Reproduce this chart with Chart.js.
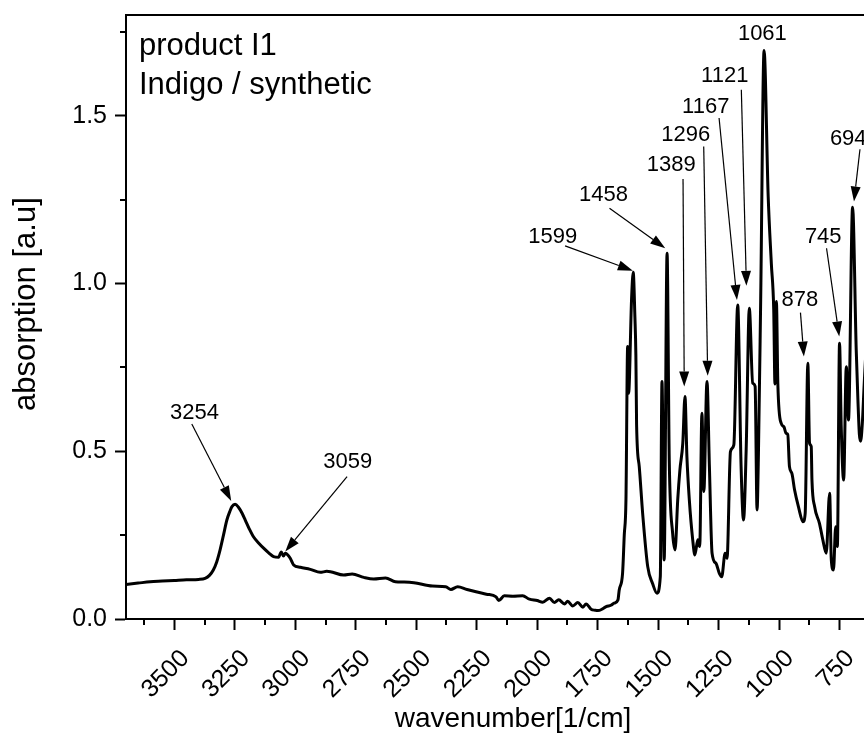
<!DOCTYPE html>
<html>
<head>
<meta charset="utf-8">
<script src="https://cdn.jsdelivr.net/npm/chart.js@4.4.1/dist/chart.umd.min.js"></script>
<style>
html,body{margin:0;padding:0;background:#fff;overflow:hidden;}
canvas{display:block;}
</style>
</head>
<body>
<canvas id="c" width="920" height="740"></canvas>
<script>
// ---- spectrum data (wavenumber in 1/cm, absorption in a.u.) ----
const wavenumber = [3700,3650,3600,3550,3500,3450,3400,3373,3355,3339,3325,3311,3297,3283,3270,3262,3249,3235,3220,3207,3190,3173,3150,3131,3110,3090,3069,3058,3049,3041,3030,3021,3007,2979,2938,2897,2870,2855,2800,2765,2717,2676,2627,2586,2550,2510,2433,2378,2357,2329,2290,2253,2210,2170,2159,2136,2100,2060,2032,2000,1977,1949,1929,1911,1887,1874,1853,1832,1811,1798,1777,1760,1749,1730,1715,1695,1682,1666,1661,1647,1640,1633,1626,1622,1610,1603,1596,1592,1589,1578,1564,1543,1523,1505,1491,1484,1475,1463,1454,1440,1430,1419,1410,1398,1389,1381,1371,1357,1348,1336,1328,1319,1311,1298,1288,1277,1261,1247,1237,1223,1215,1201,1187,1171,1157,1147,1136,1123,1109,1099,1091,1085,1076,1062,1045,1032,1022,1017,1011,1005,991,980,971,964,957,947,936,920,901,892,881,874,867,864,853,833,819,805,791,784,775,766,759,750,743,733,722,713,696,681,674,668,663,656,648,641,620,600,560,500];
const absorbance = [0.103,0.107,0.111,0.113,0.115,0.117,0.118,0.121,0.130,0.146,0.170,0.206,0.250,0.295,0.322,0.335,0.342,0.333,0.315,0.295,0.268,0.245,0.225,0.211,0.197,0.186,0.184,0.200,0.188,0.196,0.190,0.181,0.161,0.154,0.148,0.139,0.142,0.141,0.131,0.134,0.124,0.119,0.122,0.111,0.110,0.108,0.098,0.096,0.088,0.096,0.088,0.081,0.074,0.066,0.055,0.069,0.068,0.069,0.059,0.055,0.050,0.062,0.049,0.057,0.045,0.053,0.039,0.049,0.035,0.045,0.029,0.026,0.025,0.030,0.037,0.041,0.047,0.057,0.086,0.136,0.25,0.355,0.812,0.673,0.95,1.033,0.90,0.787,0.578,0.454,0.315,0.156,0.106,0.077,0.126,0.708,0.176,1.09,0.474,0.255,0.206,0.355,0.444,0.524,0.663,0.484,0.355,0.236,0.191,0.236,0.216,0.613,0.380,0.708,0.454,0.196,0.166,0.136,0.126,0.196,0.181,0.499,0.519,0.936,0.454,0.295,0.504,0.926,0.703,0.693,0.325,0.504,0.95,1.694,1.26,1.06,0.92,0.70,0.946,0.70,0.583,0.573,0.553,0.55,0.454,0.434,0.385,0.335,0.290,0.315,0.762,0.524,0.514,0.414,0.335,0.285,0.236,0.196,0.375,0.176,0.146,0.275,0.216,0.822,0.573,0.414,0.752,0.593,1.227,0.802,0.653,0.55,0.53,0.58,0.70,0.79,0.85,0.75,0.60,0.50];

// ---- axis ticks ----
const xMajorTicks = [3500,3250,3000,2750,2500,2250,2000,1750,1500,1250,1000,750];
const xMinorTicks = [3625,3375,3125,2875,2625,2375,2125,1875,1625,1375,1125,875,625];
const yMajorTicks = [0,0.5,1.0,1.5];
const yMinorTicks = [0.25,0.75,1.25,1.75];

// ---- peak annotations (data coordinates) ----
const peakText   = ['1061','1121','1167','1296','1389','1458','1599','694','745','878','3254','3059'];
const labelX     = [1069,1224.5,1303,1386,1445.7,1725.7,1935.7,714,817.4,914,3417,2783.5];
const labelY     = [1.743,1.619,1.527,1.443,1.354,1.264,1.138,1.430,1.140,0.951,0.615,0.467];
const arrowFromX = [null,1156,1248,1311.5,1397,1701,1884.7,665.5,803.7,911.5,3428,2786];
const arrowFromY = [null,1.577,1.493,1.408,1.311,1.224,1.112,1.400,1.105,0.913,0.581,0.424];
const arrowToX   = [null,1135,1174,1295,1392,1470.6,1604.4,690.3,751.2,897.4,3265,3041.5];
const arrowToY   = [null,0.993,0.951,0.725,0.693,1.105,1.038,1.244,0.842,0.782,0.352,0.201];

const sampleText = ['product I1','Indigo / synthetic'];

const FONT = '"Liberation Sans", Arial, Helvetica, sans-serif';

const extras = {
  id: 'extras',
  afterDraw(chart) {
    const {ctx, chartArea: ca, scales: {x, y}} = chart;
    ctx.save();
    ctx.strokeStyle = '#000';
    ctx.fillStyle = '#000';
    // top frame line
    ctx.lineWidth = 2;
    ctx.beginPath();
    ctx.moveTo(ca.left - 1, ca.top);
    ctx.lineTo(ca.right, ca.top);
    ctx.stroke();
    // minor ticks
    xMinorTicks.forEach(v => {
      const px = Math.round(x.getPixelForValue(v));
      ctx.beginPath(); ctx.moveTo(px, ca.bottom); ctx.lineTo(px, ca.bottom + 6); ctx.stroke();
    });
    yMinorTicks.forEach(v => {
      const py = Math.round(y.getPixelForValue(v));
      ctx.beginPath(); ctx.moveTo(ca.left, py); ctx.lineTo(ca.left - 6, py); ctx.stroke();
    });
    // sample text
    ctx.font = '31px ' + FONT;
    ctx.textAlign = 'left';
    ctx.textBaseline = 'alphabetic';
    ctx.fillText(sampleText[0], ca.left + 13, ca.top + 40);
    ctx.fillText(sampleText[1], ca.left + 13, ca.top + 79);
    // peak labels
    ctx.font = '22px ' + FONT;
    ctx.textAlign = 'center';
    ctx.textBaseline = 'middle';
    peakText.forEach((t, i) => {
      ctx.fillText(t, x.getPixelForValue(labelX[i]), y.getPixelForValue(labelY[i]));
    });
    // arrows
    ctx.lineWidth = 1.2;
    peakText.forEach((t, i) => {
      if (arrowFromX[i] === null) return;
      const x1 = x.getPixelForValue(arrowFromX[i]), y1 = y.getPixelForValue(arrowFromY[i]);
      const x2 = x.getPixelForValue(arrowToX[i]), y2 = y.getPixelForValue(arrowToY[i]);
      const ang = Math.atan2(y2 - y1, x2 - x1);
      const hl = 15, hw = 5;
      const bx = x2 - hl * Math.cos(ang), by = y2 - hl * Math.sin(ang);
      ctx.beginPath(); ctx.moveTo(x1, y1); ctx.lineTo(bx, by); ctx.stroke();
      ctx.beginPath();
      ctx.moveTo(x2, y2);
      ctx.lineTo(bx + hw * Math.sin(ang), by - hw * Math.cos(ang));
      ctx.lineTo(bx - hw * Math.sin(ang), by + hw * Math.cos(ang));
      ctx.closePath(); ctx.fill();
    });
    ctx.restore();
  }
};

function noPad(s) { s.paddingTop = 0; s.paddingBottom = 0; s.paddingLeft = 0; s.paddingRight = 0; }

new Chart(document.getElementById('c'), {
  type: 'line',
  data: {
    datasets: [{
      data: wavenumber.map((w, i) => ({x: w, y: absorbance[i]})),
      borderColor: '#000',
      borderWidth: 3,
      borderJoinStyle: 'round',
      borderCapStyle: 'round',
      pointRadius: 0,
      fill: false,
      cubicInterpolationMode: 'monotone'
    }]
  },
  options: {
    responsive: false,
    devicePixelRatio: 1,
    animation: false,
    layout: {padding: {top: 15, right: 20, left: 0, bottom: 0}},
    plugins: {legend: {display: false}, tooltip: {enabled: false}},
    scales: {
      x: {
        type: 'linear',
        reverse: true,
        min: 500, max: 3700,
        afterBuildTicks: s => { s.ticks = xMajorTicks.map(v => ({value: v})); },
        afterFit: s => { s.height = 121; noPad(s); },
        grid: {drawOnChartArea: false, drawTicks: true, tickLength: 11, tickWidth: 2, tickColor: '#000'},
        border: {display: true, color: '#000', width: 2},
        ticks: {autoSkip: false, minRotation: 45, maxRotation: 45, color: '#000', padding: 14, labelOffset: 11,
                font: {size: 25, family: FONT}, callback: v => String(v)},
        title: {display: true, text: 'wavenumber[1/cm]', color: '#000',
                font: {size: 28, family: FONT}, padding: {top: 0, bottom: 4}}
      },
      y: {
        type: 'linear',
        min: 0, max: 1.8,
        afterBuildTicks: s => { s.ticks = yMajorTicks.map(v => ({value: v})); },
        afterFit: s => { s.width = 126; noPad(s); },
        grid: {drawOnChartArea: false, drawTicks: true, tickLength: 11, tickWidth: 2, tickColor: '#000'},
        border: {display: true, color: '#000', width: 2},
        ticks: {color: '#000', padding: 8, font: {size: 25, family: FONT},
                callback: v => Number(v).toFixed(1)},
        title: {display: true, text: '   absorption [a.u]', color: '#000',
                font: {size: 31, family: FONT}, padding: {top: 8, bottom: 0}}
      }
    }
  },
  plugins: [extras]
});
</script>
</body>
</html>
